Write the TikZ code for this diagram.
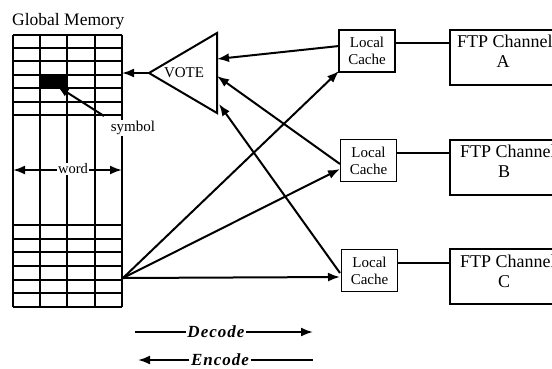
\documentclass[tikz,border=0pt]{standalone}
\usepackage{fontspec}
\setmainfont{Liberation Serif}
\newfontfamily\legfont[LetterSpace=6]{Liberation Serif}
\usetikzlibrary{arrows.meta}
\begin{document}
\begin{tikzpicture}[x=1pt,y=-1pt,
  conn/.style={line width=2pt,-{Latex[length=12pt,width=9pt]}},
  connboth/.style={line width=2pt,{Latex[length=12pt,width=9pt]}-{Latex[length=12pt,width=9pt]}},
  gridline/.style={line width=1.8pt},
  cachebox/.style={draw,line width=1.8pt,minimum width=56pt,minimum height=42pt,inner sep=0pt,
     align=center,font=\fontsize{15}{17}\selectfont},
  ftpbox/.style={draw,line width=1.8pt,minimum width=126pt,minimum height=55pt,inner sep=0pt,anchor=north west},
  ftptext/.style={anchor=base west,inner sep=0pt,font=\fontsize{18}{20}\selectfont},
  link/.style={line width=1.5pt},
  lbl/.style={fill=white,inner sep=1pt,font=\fontsize{15}{17}\selectfont},
  legtext/.style={inner sep=1.5pt,font=\legfont\bfseries\itshape\fontsize{17}{19}\selectfont}]
\useasboundingbox (0,0) rectangle (552,368);

% Global memory
\node[anchor=base west,inner sep=0pt,font=\fontsize{17.5}{20}\selectfont] (gm) at (12,25) {Global Memory};
\foreach \x in {13,40,67,95,122} \draw[gridline] (\x,35) -- (\x,307);
\foreach \y in {35,48,61,75,88,102,115,225,239,252,266,280,293,307} \draw[gridline] (13,\y) -- (122,\y);
\fill (40,74) rectangle (67,89);
\coordinate (sq) at (57,86);
\coordinate (symstart) at (104,116);
\node[lbl] (symbol) at (133,128) {symbol};
\draw[conn] (symstart) -- (sq);
\coordinate (wl) at (13,170);
\coordinate (wr) at (122,170);
\draw[connboth] (wl) -- (wr);
\node[lbl,font=\fontsize{14.5}{16}\selectfont] (word) at (73,169) {word};

% VOTE
\coordinate (vL) at (149,73);
\coordinate (vT) at (217,33);
\coordinate (vBt) at (217,113);
\draw[line width=2pt,line join=miter] (vL) -- (vT) -- (vBt) -- cycle;
\node[inner sep=0pt,font=\fontsize{15}{17}\selectfont] (vote) at (184,73) {VOTE};
\coordinate (gmout) at (122,73);
\draw[conn] (vL) -- (gmout);

% caches
\node[cachebox] (cA) at (367,51) {Local\\Cache};
\node[cachebox] (cB) at (368.5,160.5) {Local\\Cache};
\node[cachebox] (cC) at (369.5,270.5) {Local\\Cache};

% FTP channels
\node[ftpbox] (fA) at (449,29) {};
\node[ftpbox] (fB) at (449,139) {};
\node[ftpbox] (fC) at (449,248) {};
\node[ftptext] (tA1) at (457,47) {FTP Channel};
\node[ftptext,anchor=base] (tA2) at (503,67) {A};
\node[ftptext] (tB1) at (460,157) {FTP Channel};
\node[ftptext,anchor=base] (tB2) at (504,177) {B};
\node[ftptext] (tC1) at (460,267) {FTP Channel};
\node[ftptext,anchor=base] (tC2) at (504,287) {C};
\draw[link] (cA.east |- 0,43) -- (fA.west |- 0,43);
\draw[link] (cB.east |- 0,153) -- (fB.west |- 0,153);
\draw[link] (cC.east |- 0,263) -- (fC.west |- 0,263);

% cache -> VOTE
\coordinate (vA) at (217,59);
\coordinate (vB) at (217,76);
\coordinate (vC) at (219,104);
\coordinate (cAo) at (339,46);
\coordinate (cBo) at (340,164);
\coordinate (cCo) at (340,273);
\draw[conn] (cAo) -- (vA);
\draw[conn] (cBo) -- (vB);
\draw[conn] (cCo) -- (vC);

% memory -> caches
\coordinate (mem) at (123,278);
\coordinate (cAi) at (339,71);
\coordinate (cBi) at (340,169);
\coordinate (cCi) at (340,277);
\draw[conn] (mem) -- (cAi);
\draw[conn] (mem) -- (cBi);
\draw[conn] (mem) -- (cCi);

% legend
\node[legtext] (dec) at (216,332) {Decode};
\coordinate (d1) at (135,332);
\coordinate (d2) at (313,332);
\draw[line width=1.8pt] (d1) -- (dec.west);
\draw[conn] (dec.east) -- (d2);
\node[legtext] (enc) at (220,360) {Encode};
\coordinate (e1) at (138,360);
\coordinate (e2) at (313,360);
\draw[conn] (enc.west) -- (e1);
\draw[line width=1.8pt] (enc.east) -- (e2);
\end{tikzpicture}
\end{document}
